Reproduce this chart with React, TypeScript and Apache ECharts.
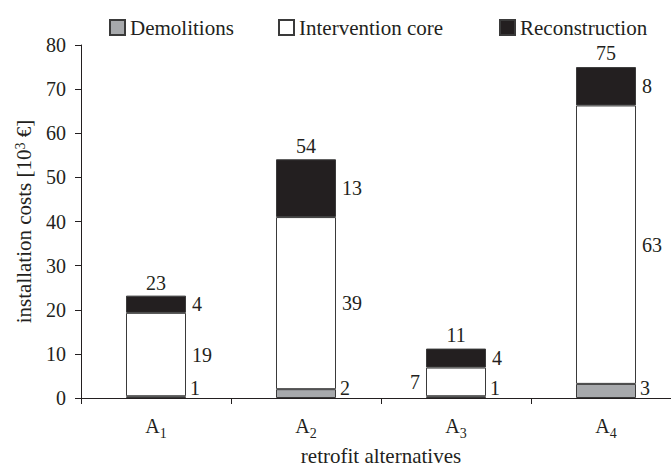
import React, { useEffect, useRef } from "react";
import * as echarts from "echarts";

const categories = ["A1", "A2", "A3", "A4"];
const seriesNames = ["Demolitions", "Intervention core", "Reconstruction"];
const demolitions = [0.4, 2, 0.4, 3.2];
const intervention = [18.9, 39, 6.5, 63.1];
const reconstruction = [3.9, 13.1, 4.3, 8.7];
const demolitionLabels = ["1", "2", "1", "3"];
const interventionLabels = ["19", "39", "7", "63"];
const reconstructionLabels = ["4", "13", "4", "8"];
const totals = [23, 54, 11, 75];
const yTicks = [0, 10, 20, 30, 40, 50, 60, 70, 80];

const FONT = "Liberation Serif";
const INK = "#231f20";

export default function App() {
  const ref = useRef<HTMLDivElement>(null);
  useEffect(() => {
    if (!ref.current) return;
    const chart = echarts.init(ref.current, null, { renderer: "svg" });
    const txt = { fontFamily: FONT, fontSize: 20, color: INK };
    const border = { borderColor: "#3a3a3a", borderWidth: 1 };
    const legendBase = {
      top: 12,
      itemWidth: 15,
      itemHeight: 15,
      icon: "rect",
      itemGap: 6,
      textStyle: { fontFamily: FONT, fontSize: 21, color: INK },
      selectedMode: false as const,
    };
    const option: any = {
      animation: false,
      backgroundColor: "#ffffff",
      textStyle: { fontFamily: FONT, color: INK },
      legend: [
        { ...legendBase, left: 104, data: [seriesNames[0]] },
        { ...legendBase, left: 273, data: [seriesNames[1]] },
        { ...legendBase, left: 494, data: [seriesNames[2]] },
      ],
      grid: { left: 81, right: -10, top: 45, bottom: 69, outerBoundsMode: "none", containLabel: false },
      xAxis: {
        type: "category",
        data: categories,
        name: "retrofit alternatives",
        nameLocation: "middle",
        nameGap: 47,
        nameTextStyle: { fontFamily: FONT, fontSize: 21, color: INK },
        axisLine: { lineStyle: { color: INK, width: 1 } },
        axisTick: { show: true, length: 6, lineStyle: { color: INK } },
        axisLabel: {
          margin: 18,
          formatter: (v: string) => `{a|${v[0]}}{s|${v.slice(1)}}`,
          rich: {
            a: { fontFamily: FONT, fontSize: 20, color: INK, lineHeight: 22, verticalAlign: "top" },
            s: { fontFamily: FONT, fontSize: 14, color: INK, lineHeight: 14, padding: [10, 0, 0, 0], verticalAlign: "top" },
          },
        },
      },
      yAxis: {
        type: "value",
        min: yTicks[0],
        max: yTicks[yTicks.length - 1],
        interval: yTicks[1] - yTicks[0],
        name: "installation costs [10{sup|3} €]",
        nameLocation: "middle",
        nameRotate: 90,
        nameGap: 47,
        nameTextStyle: {
          fontFamily: FONT,
          fontSize: 21,
          color: INK,
          rich: {
            sup: { fontFamily: FONT, fontSize: 14, color: INK, verticalAlign: "top", lineHeight: 14 },
          },
        },
        axisLine: { show: true, lineStyle: { color: INK, width: 1 } },
        axisTick: { show: true, length: 6, lineStyle: { color: INK } },
        axisLabel: { ...txt, margin: 15 },
        splitLine: { show: false },
      },
      series: [
        {
          name: seriesNames[0],
          type: "bar",
          stack: "total",
          barWidth: 60,
          itemStyle: { color: "#a7a9ac", ...border },
          data: demolitions,
          label: {
            show: true,
            position: ["100%", "100%"],
            align: "left",
            verticalAlign: "bottom",
            padding: [0, 0, 0, 4],
            formatter: (p: any) => demolitionLabels[p.dataIndex],
            ...txt,
          },
        },
        {
          name: seriesNames[1],
          type: "bar",
          stack: "total",
          barWidth: 60,
          itemStyle: { color: "#ffffff", ...border },
          data: intervention.map((v, i) =>
            i === 2 ? { value: v, label: { position: "left" } } : v
          ),
          label: {
            show: true,
            position: "right",
            distance: 6,
            formatter: (p: any) => interventionLabels[p.dataIndex],
            ...txt,
          },
        },
        {
          name: seriesNames[2],
          type: "bar",
          stack: "total",
          barWidth: 60,
          itemStyle: { color: INK, ...border },
          data: reconstruction,
          label: {
            show: true,
            position: "right",
            distance: 6,
            formatter: (p: any) => reconstructionLabels[p.dataIndex],
            ...txt,
          },
        },
        {
          name: "total",
          type: "scatter",
          data: totals,
          symbol: "circle",
          symbolSize: 0.01,
          itemStyle: { color: INK, opacity: 1 },
          silent: true,
          label: {
            show: true,
            position: "top",
            distance: 4,
            formatter: (p: any) => String(totals[p.dataIndex]),
            ...txt,
          },
        },
      ],
    };
    chart.setOption(option);
    return () => chart.dispose();
  }, []);
  return (
    <div
      ref={ref}
      style={{ position: "fixed", left: 0, top: 0, width: 671, height: 467, background: "#fff" }}
    />
  );
}
